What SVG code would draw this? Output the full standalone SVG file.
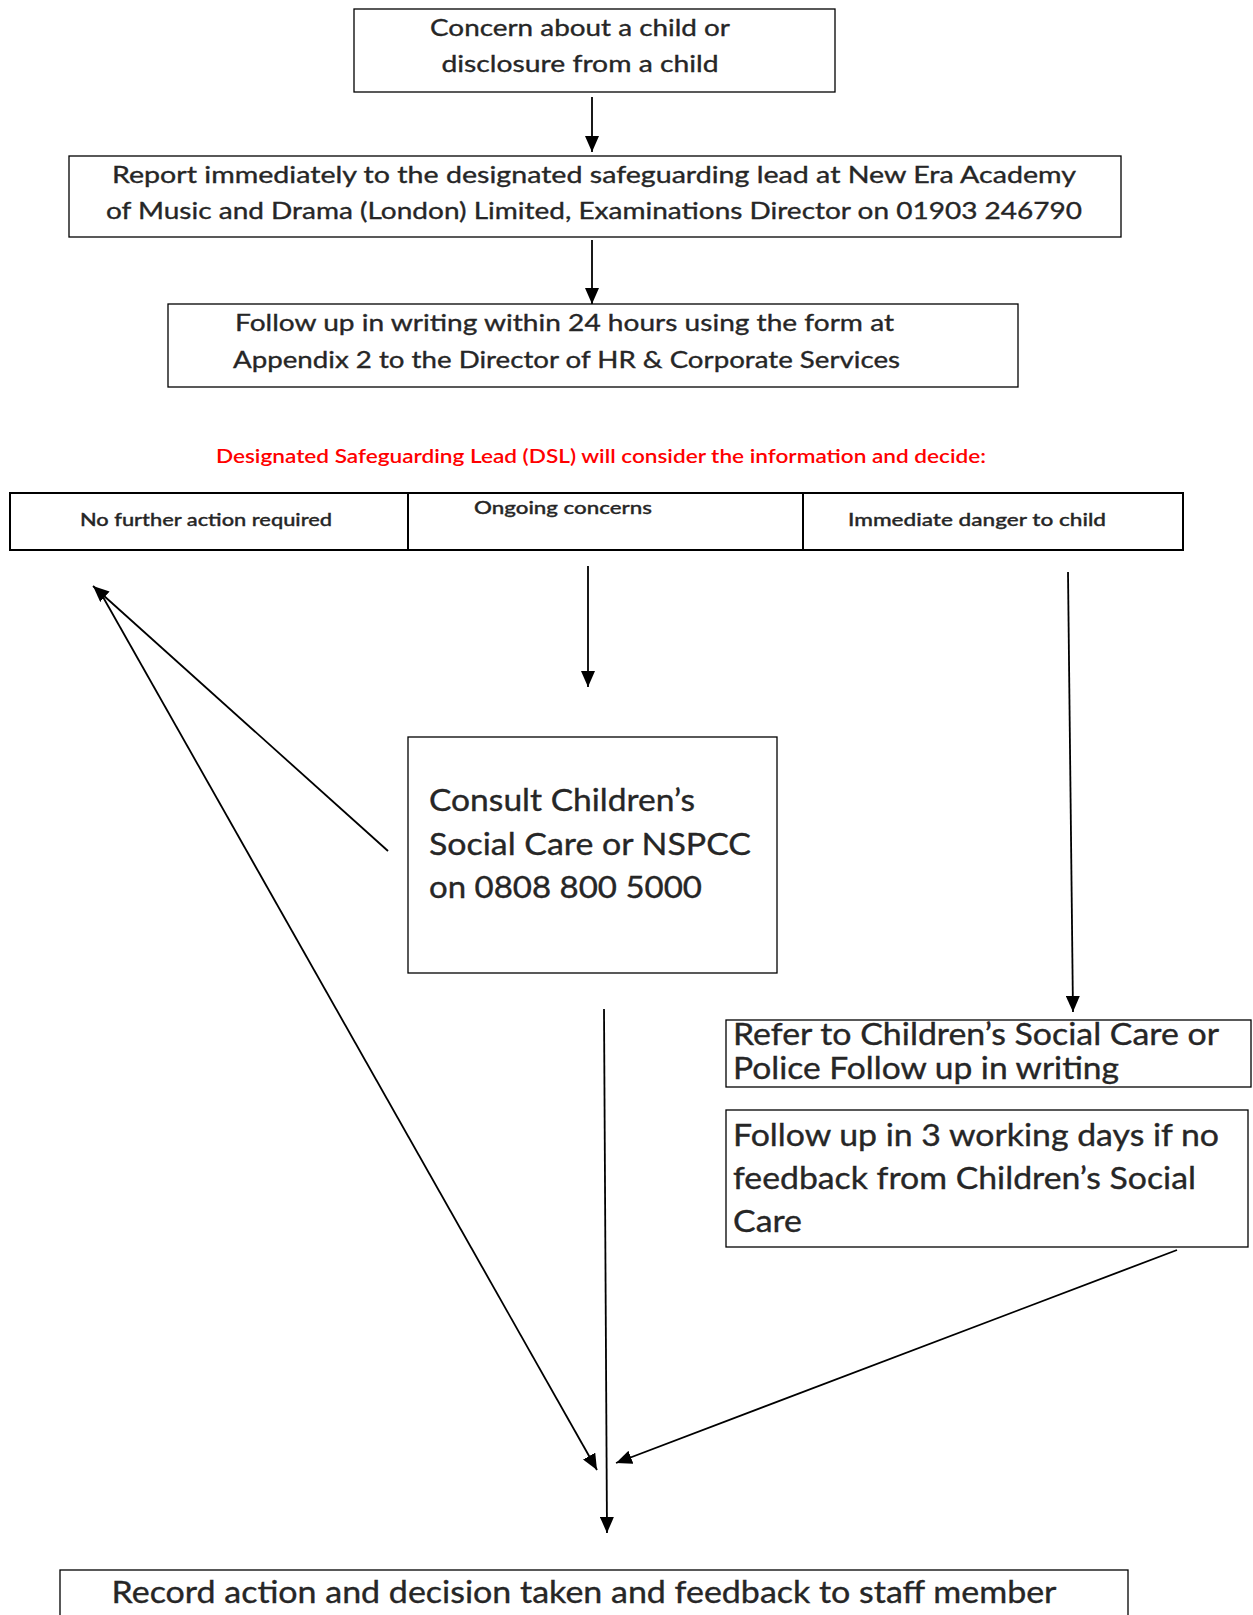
<svg xmlns="http://www.w3.org/2000/svg" width="1253" height="1615" viewBox="0 0 1253 1615">
<style>
.box{fill:#fff;stroke:#000;stroke-width:1.3}
.tbl{fill:none;stroke:#000;stroke-width:2}
.t{font-family:Lato,"Noto Sans","Liberation Sans",sans-serif;fill:#262626;stroke:#262626;stroke-width:0.35}
.m{font-size:24px}
.s{font-size:18px;font-weight:500}
.l{font-size:31px}
.r{font-size:30px}
.red{font-family:Lato,"Noto Sans","Liberation Sans",sans-serif;fill:#ff0000;font-size:19px;font-weight:600}
.c{fill:none;stroke:#000;stroke-width:1.8}
</style>
<defs>
<marker id="ah" markerUnits="userSpaceOnUse" markerWidth="18" markerHeight="14" refX="16" refY="7" orient="auto" viewBox="0 0 18 14">
<path d="M0,0 L16,7 L0,14 z" fill="#000"/>
</marker>
</defs>
<rect width="1253" height="1615" fill="#fff"/>
<g id="concern">
<rect class="box" x="354" y="9" width="481" height="83"/>
<text class="t m" x="580" y="36" text-anchor="middle" textLength="300" lengthAdjust="spacingAndGlyphs">Concern about a child or</text>
<text class="t m" x="580" y="72" text-anchor="middle" textLength="277" lengthAdjust="spacingAndGlyphs">disclosure from a child</text>
</g>
<g id="report">
<rect class="box" x="69" y="156" width="1052" height="81"/>
<text class="t m" x="594" y="183" text-anchor="middle" textLength="964" lengthAdjust="spacingAndGlyphs">Report immediately to the designated safeguarding lead at New Era Academy</text>
<text class="t m" x="594" y="219" text-anchor="middle" textLength="976" lengthAdjust="spacingAndGlyphs">of Music and Drama (London) Limited, Examinations Director on 01903 246790</text>
</g>
<g id="followup24">
<rect class="box" x="168" y="304" width="850" height="83"/>
<text class="t m" x="235" y="331" textLength="659" lengthAdjust="spacingAndGlyphs">Follow up in writing within 24 hours using the form at</text>
<text class="t m" x="233" y="368" textLength="667" lengthAdjust="spacingAndGlyphs">Appendix 2 to the Director of HR &amp; Corporate Services</text>
</g>
<g id="dsl-label">
<text class="red" x="601" y="463" text-anchor="middle" textLength="770" lengthAdjust="spacingAndGlyphs">Designated Safeguarding Lead (DSL) will consider the information and decide:</text>
</g>
<g id="decision-table">
<rect class="tbl" x="10" y="493" width="1173" height="57"/>
<line class="tbl" x1="408" y1="493" x2="408" y2="550"/>
<line class="tbl" x1="803" y1="493" x2="803" y2="550"/>
<g id="no-further">
<text class="t s" x="206" y="526" text-anchor="middle" textLength="252" lengthAdjust="spacingAndGlyphs">No further action required</text>
</g>
<g id="ongoing">
<text class="t s" x="563" y="514" text-anchor="middle" textLength="178" lengthAdjust="spacingAndGlyphs">Ongoing concerns</text>
</g>
<g id="immediate">
<text class="t s" x="977" y="526" text-anchor="middle" textLength="258" lengthAdjust="spacingAndGlyphs">Immediate danger to child</text>
</g>
</g>
<g id="consult">
<rect class="box" x="408" y="737" width="369" height="236"/>
<text class="t l" x="429" y="811" textLength="266" lengthAdjust="spacingAndGlyphs">Consult Children’s</text>
<text class="t l" x="429" y="855" textLength="322" lengthAdjust="spacingAndGlyphs">Social Care or NSPCC</text>
<text class="t l" x="429" y="898" textLength="273" lengthAdjust="spacingAndGlyphs">on 0808 800 5000</text>
</g>
<g id="refer">
<rect class="box" x="726" y="1020" width="525" height="67"/>
<text class="t r" x="733" y="1045" textLength="486" lengthAdjust="spacingAndGlyphs">Refer to Children’s Social Care or</text>
<text class="t r" x="733" y="1079" textLength="386" lengthAdjust="spacingAndGlyphs">Police Follow up in writing</text>
</g>
<g id="followup3">
<rect class="box" x="726" y="1110" width="522" height="137"/>
<text class="t l" x="733" y="1146" textLength="486" lengthAdjust="spacingAndGlyphs">Follow up in 3 working days if no</text>
<text class="t l" x="733" y="1189" textLength="463" lengthAdjust="spacingAndGlyphs">feedback from Children’s Social</text>
<text class="t l" x="733" y="1232" textLength="69" lengthAdjust="spacingAndGlyphs">Care</text>
</g>
<g id="record">
<rect class="box" x="60" y="1570" width="1068" height="60"/>
<text class="t l" x="584" y="1603" text-anchor="middle" textLength="945" lengthAdjust="spacingAndGlyphs">Record action and decision taken and feedback to staff member</text>
</g>
<g id="connectors">
<line class="c" x1="592" y1="97" x2="592" y2="152" marker-end="url(#ah)"/>
<line class="c" x1="592" y1="240" x2="592" y2="304" marker-end="url(#ah)"/>
<line class="c" x1="588" y1="566" x2="588" y2="687" marker-end="url(#ah)"/>
<line class="c" x1="1068" y1="572" x2="1073" y2="1012" marker-end="url(#ah)"/>
<line class="c" x1="388" y1="851" x2="93" y2="586" marker-end="url(#ah)"/>
<line class="c" x1="103" y1="597" x2="597" y2="1470" marker-end="url(#ah)"/>
<line class="c" x1="604" y1="1009" x2="607" y2="1533" marker-end="url(#ah)"/>
<line class="c" x1="1177" y1="1250" x2="616" y2="1463" marker-end="url(#ah)"/>
</g>
</svg>
